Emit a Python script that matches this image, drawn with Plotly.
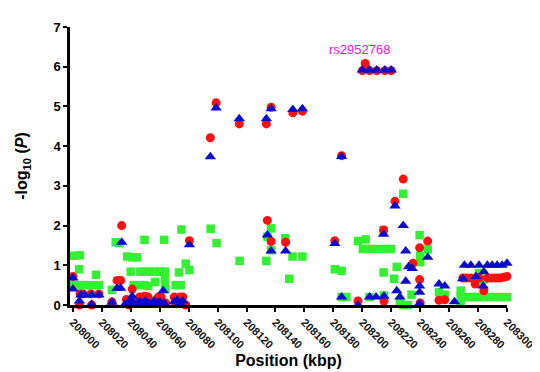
import plotly.graph_objects as go

# Red circles
red_x = [208000, 208004.5, 208005, 208007, 208012.5, 208013, 208018, 208027, 208030.5, 208033,
         208033.7, 208037, 208038.7, 208041, 208043, 208046, 208048, 208050, 208052, 208055,
         208059, 208061, 208064, 208070, 208071, 208074, 208076, 208078, 208080.5,
         208095, 208099, 208115, 208133.7, 208134.4, 208137, 208137, 208147, 208152, 208158.6,
         208181, 208185.7, 208197, 208200, 208202, 208205, 208210, 208215.6, 208220,
         208214.7, 208215, 208222.6, 208228.3, 208235, 208239.6, 208245.2, 208239.6, 208240,
         208253, 208257, 208269.5, 208272, 208275, 208278, 208280.7, 208284, 208286.7,
         208289.5, 208292.3, 208295, 208297.7, 208300]
red_y = [0.72, 0.0, 0.28, 0.28, 0.28, 0.0, 0.28, 0.08, 0.62, 0.62,
         2.0, 0.14, 0.0, 0.4, 0.05, 0.2, 0.2, 0.22, 0.2, 0.05,
         0.2, 0.2, 0.05, 0.2, 0.05, 0.2, 0.2, 0.0, 1.62,
         4.21, 5.09, 4.56, 4.56, 2.13, 4.98, 1.6, 1.58, 4.84, 4.88,
         1.62, 3.76, 0.1, 5.9, 6.08, 5.9, 5.9, 5.9, 5.9,
         1.89, 0.1, 2.61, 3.17, 1.05, 1.44, 1.61, 0.64, 0.05,
         0.12, 0.13, 0.68, 0.68, 0.68, 0.53, 0.68, 0.36, 0.68,
         0.68, 0.68, 0.68, 0.7, 0.72]

# Blue triangles
blue_x = [208000, 208000, 208004.5, 208005.5, 208008, 208013, 208013, 208018, 208027, 208030.5,
          208033, 208033.7, 208036, 208038, 208040, 208041, 208042, 208044, 208046, 208048,
          208050, 208052, 208054, 208056, 208058, 208060, 208062.4, 208063, 208070, 208072,
          208074, 208076, 208080.5,
          208095, 208099, 208115, 208133.7, 208134.4, 208137, 208137, 208147, 208152, 208158.6,
          208181, 208185.7, 208185.7, 208197, 208200, 208205, 208210, 208215.6, 208220,
          208205, 208209.5, 208215, 208214.7, 208222.6, 208223.8, 208226, 208228.3, 208230,
          208230, 208232, 208234.5, 208239.6, 208239.6, 208239.6, 208245.2, 208253, 208257,
          208263.7, 208269.4, 208270.6, 208275, 208278.5, 208280.7, 208283.5, 208284, 208286.4,
          208289.8, 208293.2, 208296.6, 208300]
blue_y = [0.68, 0.4, 0.1, 0.25, 0.25, 0.25, 0.02, 0.25, 0.07, 0.42,
          0.42, 1.58, 0.02, 0.05, 0.1, 0.22, 0.05, 0.02, 0.08, 0.05,
          0.1, 0.05, 0.02, 0.1, 0.05, 0.08, 0.36, 0.05, 0.08, 0.12,
          0.05, 0.1, 1.52,
          3.73, 4.96, 4.69, 4.69, 1.76, 4.94, 1.36, 1.36, 4.92, 4.94,
          1.55, 3.74, 0.2, 0.0, 5.92, 5.92, 5.92, 5.92, 5.92,
          0.2, 0.2, 0.22, 1.78, 2.49, 0.36, 0.2, 2.0, 1.36,
          0.6, 0.96, 0.92, 0.48, 0.32, 0.04, 1.2, 0.53, 0.48,
          0.08, 0.66, 1.0, 1.0, 0.72, 1.0, 0.48, 0.84, 1.0,
          1.0, 1.0, 1.0, 1.05]

# Green squares
green_x = [208000, 208004.8, 208004.3, 208016, 208000, 208003, 208005, 208008, 208011, 208014,
           208018, 208027, 208029.6, 208032, 208037.5, 208041, 208044.3, 208040, 208046.6, 208050,
           208053.4, 208056.8, 208060.2, 208063.6, 208049.5, 208063.1, 208056.8, 208042, 208045.5,
           208049, 208052, 208063.6, 208063.6, 208064, 208071, 208074.5, 208073.3, 208078, 208080.5,
           208075, 208095.2, 208099.3, 208115.2, 208133.7, 208134.4, 208137, 208137, 208146.8,
           208151.8, 208158.6, 208149.5, 208181, 208185.7, 208185.7, 208189, 208197, 208202.3,
           208200.4, 208205, 208209.5, 208215.2, 208219.7, 208214.7, 208205, 208215, 208214.7,
           208222, 208223.8, 208228.3, 208228.3, 208231.5, 208226, 208234, 208239.6, 208240,
           208240, 208245.2, 208253, 208257, 208268, 208268, 208268, 208272, 208276, 208280,
           208284, 208288, 208292, 208296, 208300, 208280.7, 208284]
green_y = [1.24, 1.25, 0.9, 0.76, 0.5, 0.5, 0.5, 0.5, 0.5, 0.5,
           0.5, 0.38, 1.58, 1.56, 1.22, 1.2, 1.2, 0.84, 0.84, 0.84,
           0.84, 0.84, 0.84, 0.84, 1.64, 1.64, 0.58, 0.5, 0.5,
           0.5, 0.48, 0.68, 0.52, 0.4, 0.5, 0.5, 0.82, 1.04, 0.88,
           1.9, 1.92, 1.56, 1.11, 1.11, 1.72, 1.93, 1.38, 1.68,
           1.22, 1.22, 0.66, 0.9, 0.86, 0.2, 0.2, 1.61, 1.65,
           1.41, 1.41, 1.41, 1.41, 1.41, 1.88, 0.2, 0.24, 0.82,
           0.66, 0.96, 2.8, 0.0, 0.0, 0.08, 0.26, 1.76, 1.24,
           1.08, 1.4, 0.32, 0.26, 0.36, 0.04, 0.2, 0.2, 0.2, 0.2,
           0.2, 0.2, 0.2, 0.2, 0.2, 0.8, 0.64]

x_ticks = list(range(208000, 208301, 20))
y_ticks = list(range(0, 8))

fig = go.Figure()
fig.add_trace(go.Scatter(x=green_x, y=green_y, mode="markers", cliponaxis=False,
                         marker=dict(symbol="square", size=8.5, color="#33F033")))
fig.add_trace(go.Scatter(x=red_x, y=red_y, mode="markers", cliponaxis=False,
                         marker=dict(symbol="circle", size=9, color="#FF1010")))
fig.add_trace(go.Scatter(x=blue_x, y=blue_y, mode="markers", cliponaxis=False,
                         marker=dict(symbol="triangle-up", size=10, color="#0A0ACC")))

fig.add_annotation(x=208198, y=6.43, text="rs2952768", showarrow=False,
                   font=dict(family="Liberation Sans", size=13, color="#E020E0"))

fig.update_layout(
    width=540, height=372,
    margin=dict(l=60, r=35, t=13, b=67),
    paper_bgcolor="white", plot_bgcolor="white",
    showlegend=False,
    font=dict(family="Liberation Sans", color="black"),
)
fig.update_xaxes(
    range=[207998, 208300], tickvals=x_ticks, ticktext=[str(v) for v in x_ticks],
    tickangle=45, showgrid=False, zeroline=False,
    showline=True, linecolor="black", linewidth=2.5,
    ticks="outside", ticklen=4, tickwidth=2, tickcolor="black",
    tickfont=dict(family="Liberation Sans", size=11, weight="bold", color="#111"),
    title=dict(text="Position (kbp)", standoff=6,
               font=dict(family="Liberation Sans", size=16, weight="bold")),
)
fig.update_yaxes(
    range=[0, 7], tickvals=y_ticks, showgrid=False, zeroline=False,
    showline=True, linecolor="black", linewidth=2.5,
    ticks="outside", ticklen=4, tickwidth=2, tickcolor="black",
    tickfont=dict(family="Liberation Sans", size=13, weight="bold"),
    title=dict(text="-log<sub>10</sub> (<i>P</i>)", standoff=22,
               font=dict(family="Liberation Sans", size=16, weight="bold")),
)

fig.write_html("out.html")
